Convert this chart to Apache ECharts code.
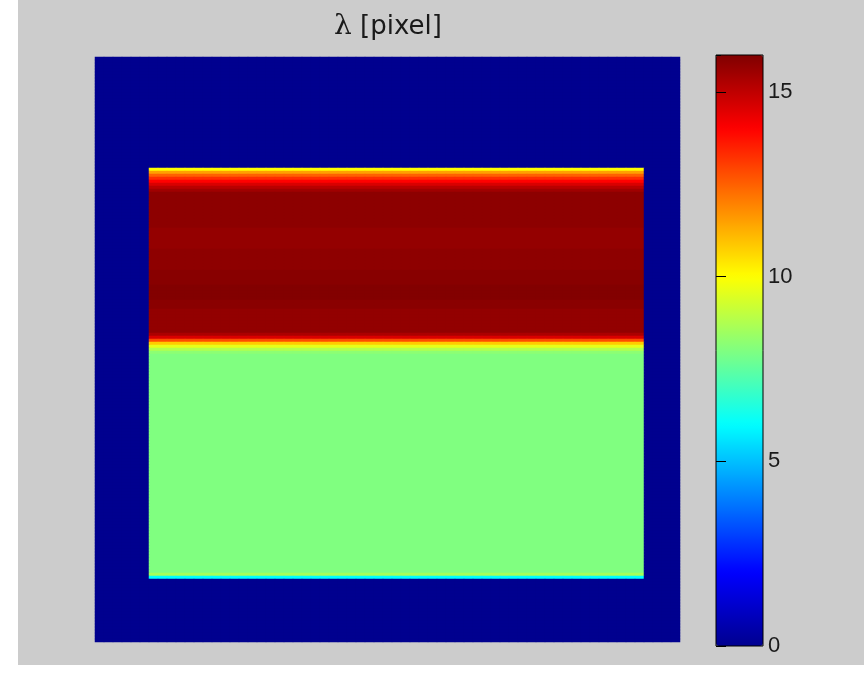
<!DOCTYPE html>
<html>
<head>
<meta charset="utf-8">
<script src="https://cdn.jsdelivr.net/npm/echarts@6/dist/echarts.min.js"></script>
<style>
  body { margin: 0; background: #fff; }
  #main { width: 864px; height: 684px; }
</style>
</head>
<body>
<div id="main"></div>
<script>
// grid of the lambda map (columns x rows), 9px x 3px cells
var nCols = 65;
var nRows = 195;
// first and last column of the filled rectangle
var innerCols = [6, 60];
// lambda down the rectangle, top to bottom: [number of rows, value]
var rowRuns = [
  [37, 0],
  [1, 10], [1, 11.5], [1, 12.5], [1, 13.3], [1, 14], [1, 14.6], [1, 15.1], [1, 15.5],
  [12, 15.8], [7, 15.68], [7, 15.78], [5, 15.88], [5, 15.95], [3, 15.85], [8, 15.7],
  [1, 15.3], [1, 14.6], [1, 12.8], [1, 10.8], [1, 9.6], [1, 8.8], [1, 8.2],
  [73, 8],
  [1, 8.6], [1, 6],
  [21, 0]
];
var barTicks = [0, 5, 10, 15];
var lambdaMax = 16;
// jet colormap
var jet = ['#00008f', '#0000ff', '#0080ff', '#00ffff', '#80ff80', '#ffff00', '#ff8000', '#ff0000', '#800000'];

// expand the runs into one value per row
var rowValues = [];
rowRuns.forEach(function (r) {
  for (var i = 0; i < r[0]; i++) rowValues.push(r[1]);
});

var xCats = [], yCats = [], cells = [];
for (var c = 0; c < nCols; c++) xCats.push(c);
for (var r = 0; r < nRows; r++) yCats.push(r);
for (var r2 = 0; r2 < nRows; r2++) {
  for (var c2 = 0; c2 < nCols; c2++) {
    var inside = c2 >= innerCols[0] && c2 <= innerCols[1];
    cells.push([c2, r2, inside ? rowValues[r2] : 0]);
  }
}

// colorbar axes: pulled 5px into the bar so the outward ticks end on its edge
var tickAxis = function (pos, labels) {
  return {
    type: 'value', gridIndex: 1, min: 0, max: lambdaMax, interval: 5, position: pos, offset: -5, z: 10,
    axisLine: { show: false },
    axisTick: { show: true, length: 5, lineStyle: { color: '#000', width: 1 } },
    axisLabel: labels ? {
      margin: 10, color: '#1a1a1a', fontSize: 22, fontFamily: 'Liberation Sans, Arial',
      showMaxLabel: false,
      formatter: function (v) { return barTicks.indexOf(v) >= 0 ? String(v) : ''; }
    } : { show: false },
    splitLine: { show: false }
  };
};

var myChart = echarts.init(document.getElementById('main'));
myChart.setOption({
  animation: false,
  backgroundColor: '#fff',
  graphic: [{
    type: 'rect',
    z: -10,
    shape: { x: 18, y: 0, width: 846, height: 665 },
    style: { fill: '#cccccc' }
  }],
  title: {
    text: '{l|λ} [pixel]',
    left: 383,
    top: 8,
    textAlign: 'center',
    textStyle: {
      fontFamily: 'DejaVu Sans', fontSize: 26, fontWeight: 'normal', color: '#1a1a1a',
      rich: { l: { fontFamily: 'DejaVu Serif', fontSize: 28, color: '#1a1a1a' } }
    }
  },
  grid: [
    { left: 95, top: 57, width: 585, height: 585 },
    { left: 716, top: 55, width: 47, height: 591, show: true, borderColor: '#000', borderWidth: 1, backgroundColor: 'transparent', z: 8 }
  ],
  xAxis: [
    { type: 'category', gridIndex: 0, data: xCats, show: false },
    { type: 'value', gridIndex: 1, min: 0, max: 1, show: false }
  ],
  yAxis: [
    { type: 'category', gridIndex: 0, data: yCats, inverse: true, show: false },
    tickAxis('right', true),
    tickAxis('left', false)
  ],
  visualMap: {
    type: 'continuous',
    seriesIndex: 0,
    min: 0,
    max: lambdaMax,
    calculable: false,
    left: 716,
    top: 55,
    padding: 0,
    z: 1,
    itemWidth: 47,
    itemHeight: 591,
    inRange: { color: jet }
  },
  series: [{
    type: 'heatmap',
    xAxisIndex: 0,
    yAxisIndex: 0,
    data: cells,
    progressive: 0,
    emphasis: { disabled: true }
  }]
});
</script>
</body>
</html>
